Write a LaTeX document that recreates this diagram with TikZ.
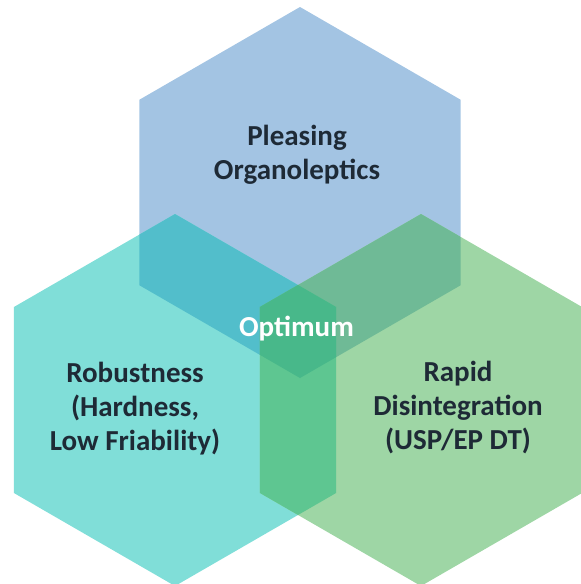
\documentclass[tikz,border=0pt]{standalone}
\usepackage{fontspec}
\setmainfont[Ligatures={Common,Rare}]{Carlito}
\definecolor{hexblue}{HTML}{A3C4E3}
\definecolor{hexteal}{HTML}{80DED8}
\definecolor{hexgreen}{HTML}{9ED6A5}
\definecolor{mixbt}{HTML}{52BECB}
\definecolor{mixbg}{HTML}{6FBA96}
\definecolor{mixtg}{HTML}{5EC691}
\definecolor{mixall}{HTML}{48B88A}
\definecolor{txtdark}{HTML}{1E2A36}
\newcommand\myhex[3]{({#1},{#2-#3}) -- ({#1+0.8660*#3},{#2-0.5*#3}) -- ({#1+0.8660*#3},{#2+0.5*#3}) -- ({#1},{#2+#3}) -- ({#1-0.8660*#3},{#2+0.5*#3}) -- ({#1-0.8660*#3},{#2-0.5*#3}) -- cycle}
\begin{document}
\begin{tikzpicture}[x=1pt,y=-1pt,
  lbl/.style={align=center,inner sep=0pt,text=txtdark,font=\fontsize{29}{34}\selectfont\bfseries},
  optlbl/.style={inner sep=0pt,text=white,font=\fontsize{29}{34}\selectfont\bfseries}]
\useasboundingbox (0,0) rectangle (581,584);
\fill[hexblue] \myhex{300}{192.5}{185.5};
\fill[hexteal] \myhex{175}{400}{186};
\fill[hexgreen] \myhex{421}{400}{186};
\begin{scope}
  \clip \myhex{300}{192.5}{185.5};
  \fill[mixbt] \myhex{175}{400}{186};
\end{scope}
\begin{scope}
  \clip \myhex{300}{192.5}{185.5};
  \fill[mixbg] \myhex{421}{400}{186};
\end{scope}
\begin{scope}
  \clip \myhex{175}{400}{186};
  \fill[mixtg] \myhex{421}{400}{186};
\end{scope}
\begin{scope}
  \clip \myhex{300}{192.5}{185.5};
  \clip \myhex{175}{400}{186};
  \fill[mixall] \myhex{421}{400}{186};
\end{scope}
\node[lbl] (pleasing) at (297,155) {Pleasing\\Organoleptics};
\node[lbl] (robust) at (135,409) {Robus\kern0pt tness\\(Hardness,\\Low Friability)};
\node[lbl] (rapid) at (458,408) {Rapid\\Disintegration\\(USP/EP DT)};
\node[optlbl,anchor=base] (optimum) at (296.5,336) {Optimum};
\end{tikzpicture}
\end{document}
